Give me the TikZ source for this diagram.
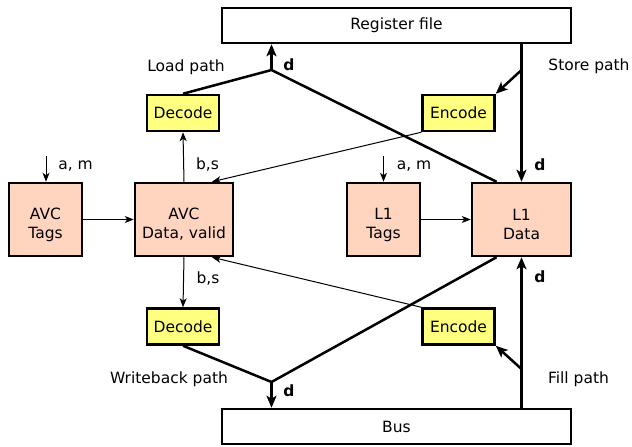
\documentclass[tikz,border=0pt]{standalone}
\usepackage{fontspec}
\setmainfont{DejaVu Sans}
\usetikzlibrary{arrows.meta}
\definecolor{peach}{RGB}{255,213,192}
\definecolor{yel}{RGB}{255,255,128}
\begin{document}
\begin{tikzpicture}[x=1pt,y=-1pt,
  font=\fontsize{15.5}{19}\selectfont,
  box/.style={draw,line width=2.5pt,inner sep=0pt,align=center},
  unitbox/.style={box,fill=peach,minimum height=73pt},
  utext/.style={align=center,inner sep=0pt,yshift=-5pt},
  codebox/.style={box,fill=yel,minimum width=72pt,minimum height=36pt},
  bigbox/.style={box,fill=white,minimum width=349pt,minimum height=35pt},
  thk/.style={line width=2.5pt},
  thkarr/.style={thk,-{Stealth[length=12pt,width=10pt,inset=3pt]}},
  thn/.style={line width=1pt,-{Stealth[length=9pt,width=7pt,inset=2.5pt]}},
  lbl/.style={anchor=base,inner sep=0pt},
  blbl/.style={lbl,font=\fontsize{15.5}{19}\selectfont\bfseries}]
\useasboundingbox (0,0) rectangle (632,447);
% boxes
\node[bigbox] (reg) at (396.5,25.5) {Register file};
\node[bigbox] (bus) at (396.5,426.5) {Bus};
\node[codebox] (dec1) at (183,113) {Decode};
\node[codebox] (enc1) at (458.5,113) {Encode};
\node[codebox] (dec2) at (183,326.5) {Decode};
\node[codebox] (enc2) at (458.5,326.5) {Encode};
\node[unitbox,minimum width=73pt] (avct) at (45.5,219.5) {};
\node[unitbox,minimum width=98pt] (avcd) at (184,219.5) {};
\node[unitbox,minimum width=73pt] (l1t) at (383.5,219.5) {};
\node[unitbox,minimum width=99pt] (l1d) at (521.5,219.5) {};
\node[utext] (avcttx) at (avct.center) {AVC\\Tags};
\node[utext] (avcdtx) at (avcd.center) {AVC\\Data, valid};
\node[utext] (l1ttx) at (l1t.center) {L1\\Tags};
\node[utext] (l1dtx) at (l1d.center) {L1\\Data};
% junctions
\coordinate (jl) at (271.5,70);
\coordinate (js) at (521.5,70);
\coordinate (jw) at (271.5,382);
\coordinate (jf) at (521.5,369);
\coordinate (am1) at (46,156);
\coordinate (am2) at (383.5,156);
% load path
\draw[thkarr] (jl) -- (jl |- reg.south);
\draw[thk] (dec1.north) -- (jl) -- ([xshift=-25pt]l1d.north);
% store path
\draw[thkarr] (reg.south -| l1d.north) -- (l1d.north);
\draw[thkarr] (js) -- (enc1.north east);
% writeback path
\draw[thk] (dec2.south) -- (jw) -- ([xshift=-25pt]l1d.south);
\draw[thkarr] (jw) -- (jw |- bus.north);
% fill path
\draw[thkarr] (bus.north -| l1d.south) -- (l1d.south);
\draw[thkarr] (jf) -- (enc2.south east);
% thin arrows
\draw[thn] (enc1.south west) -- ([xshift=28pt]avcd.north);
\draw[thn] (enc2.north west) -- ([xshift=28pt]avcd.south);
\draw[thn] (avcd.north) -- (dec1.south);
\draw[thn] (avcd.south) -- (dec2.north);
\draw[thn] (avct.east) -- (avcd.west);
\draw[thn] (l1t.east) -- (l1d.west);
\draw[thn] (am1) -- (am1 |- avct.north);
\draw[thn] (am2) -- (am2 |- l1t.north);
% labels
\node[lbl] (lload) at (186,71) {Load path};
\node[blbl] (d1) at (289,70) {d};
\node[lbl] (lstore) at (589,70) {Store path};
\node[blbl] (d2) at (540,170) {d};
\node[lbl] (am1l) at (75.5,169) {a, m};
\node[lbl] (am2l) at (414,169) {a, m};
\node[lbl] (bs1) at (207.5,169) {b,s};
\node[lbl] (bs2) at (208,283) {b,s};
\node[lbl] (lwb) at (169,383) {Writeback path};
\node[blbl] (d3) at (289,396) {d};
\node[lbl] (lfill) at (578.5,383) {Fill path};
\node[blbl] (d4) at (540,282) {d};
\end{tikzpicture}
\end{document}
